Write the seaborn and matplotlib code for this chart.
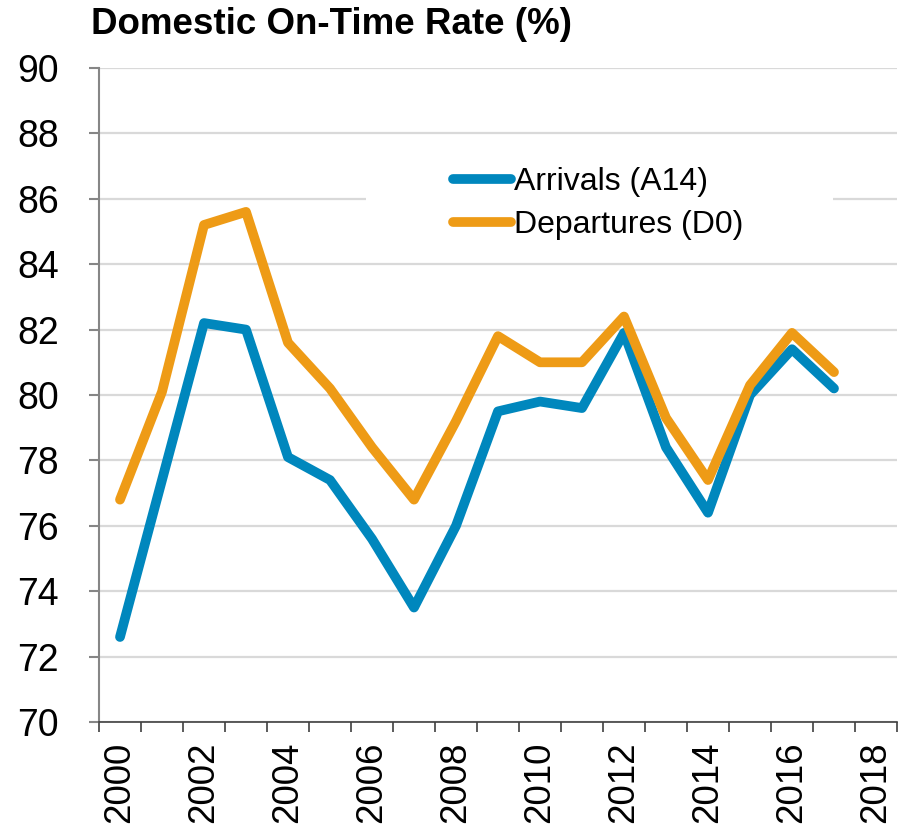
## Domestic on-time rate chart (arrivals vs departures)

import numpy as np
import pandas as pd
import seaborn as sns
import matplotlib.pyplot as plt
from matplotlib.patches import Rectangle

# data
years = list(range(2000, 2018))
arrivals = [72.6, 77.4, 82.2, 82.0, 78.1, 77.4, 75.6, 73.5, 76.0,
            79.5, 79.8, 79.6, 81.9, 78.4, 76.4, 80.0, 81.4, 80.2]
departures = [76.8, 80.1, 85.2, 85.6, 81.6, 80.2, 78.4, 76.8, 79.2,
              81.8, 81.0, 81.0, 82.4, 79.3, 77.4, 80.3, 81.9, 80.7]
series_names = ["Arrivals (A14)", "Departures (D0)"]
series_colors = ["#0087BD", "#EE9B16"]
year_ticks = list(range(2000, 2019, 2))
y_ticks = list(range(70, 91, 2))

# long form table for seaborn
df = pd.DataFrame({
    "Year": years + years,
    "Rate": arrivals + departures,
    "Series": [series_names[0]] * len(years) + [series_names[1]] * len(years),
})

sns.set_style("white")
plt.rcParams['font.family'] = ['Liberation Sans', 'DejaVu Sans']
plt.rcParams['text.color'] = 'black'

fig = plt.figure(figsize=(9.08, 8.34), dpi=100)
ax = fig.add_axes([99 / 908, 1 - 722 / 834, 798 / 908, 654 / 834])

sns.lineplot(data=df, x="Year", y="Rate", hue="Series",
             palette=dict(zip(series_names, series_colors)),
             linewidth=7, solid_capstyle="round", solid_joinstyle="round",
             ax=ax, zorder=3)

# axes limits and ticks
ax.set_xlim(1999.5, 2018.5)
ax.set_ylim(70, 90)
ax.set_xticks(year_ticks)
ax.set_xticklabels([str(y) for y in year_ticks], rotation=90)
ax.set_xticks(np.arange(1999.5, 2019.0, 1.0), minor=True)
ax.set_yticks(y_ticks)
ax.set_xlabel("")
ax.set_ylabel("")

ax.tick_params(axis="x", which="major", length=0, pad=14, labelsize=26.5, labelcolor="black")
ax.tick_params(axis="x", which="minor", length=7, width=1.2, color="#404040", bottom=True)
ax.tick_params(axis="y", length=7, width=1.5, color="#868686", pad=22, labelsize=27,
               left=True, labelcolor="black")

# grid and spines
ax.set_axisbelow(True)
ax.yaxis.grid(True, color="#D9D9D9", linewidth=1.6)
ax.xaxis.grid(False)
for side in ["top", "right"]:
    ax.spines[side].set_visible(False)
ax.spines["left"].set_color("#868686")
ax.spines["left"].set_linewidth(1.5)
ax.spines["bottom"].set_color("#404040")
ax.spines["bottom"].set_linewidth(1.2)
ax.spines["bottom"].set_zorder(4)

# white box behind the legend (hides the grid line there)
ax.add_patch(Rectangle((0.334, 0.73), 0.586, 0.145, transform=ax.transAxes,
                       facecolor="white", edgecolor="none", zorder=1))

sns.move_legend(ax, loc="upper left", bbox_to_anchor=(0.444, 0.848), frameon=False,
                title=None, fontsize=23, handlelength=1.8, handletextpad=0.1,
                labelspacing=0.4, borderpad=0, borderaxespad=0)
leg = ax.get_legend()
for h in leg.get_lines():
    h.set_linewidth(7)
    h.set_solid_capstyle("round")
for t in leg.get_texts():
    t.set_color("black")

fig.text(91 / 908, 1 - 7 / 834, "Domestic On-Time Rate (%)", va="top", ha="left",
         fontsize=26.5, fontweight="bold", color="black")

plt.savefig("out.png", dpi=100)
plt.close()
